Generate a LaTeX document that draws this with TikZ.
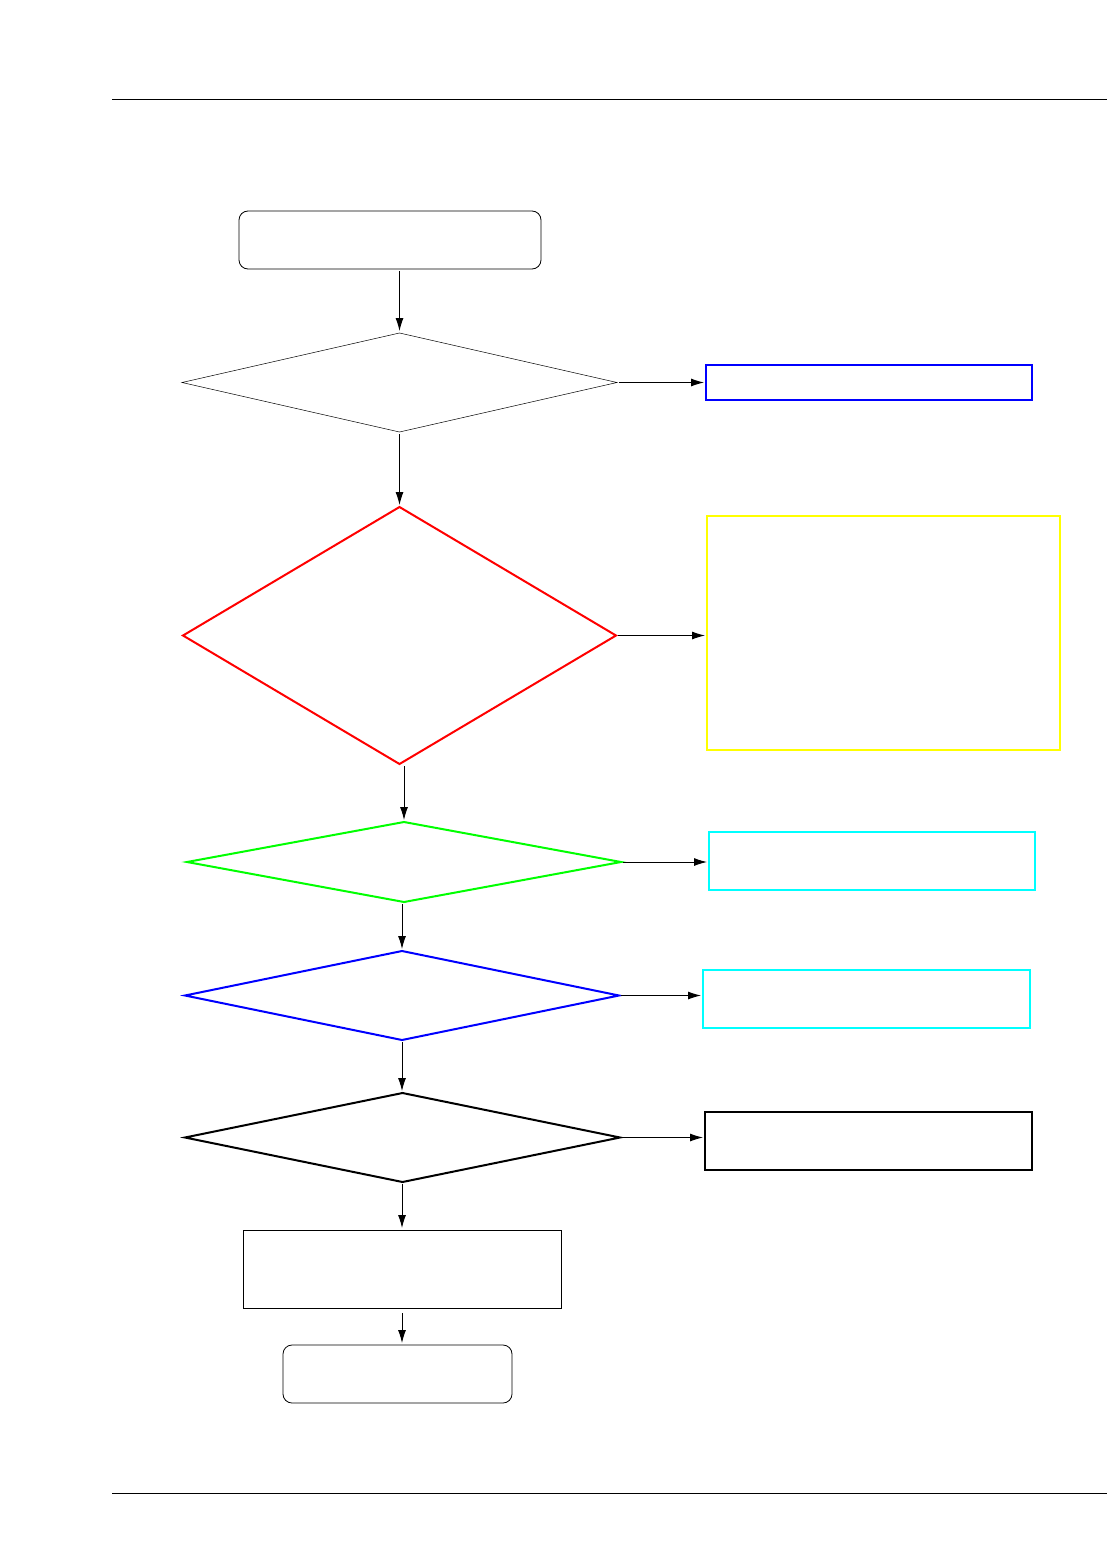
\documentclass[tikz,border=0pt]{standalone}
\usetikzlibrary{shapes.geometric,arrows.meta}
\definecolor{pblue}{RGB}{0,0,255}
\definecolor{pred}{RGB}{255,0,0}
\definecolor{pyellow}{RGB}{255,255,0}
\definecolor{pgreen}{RGB}{0,255,0}
\definecolor{pcyan}{RGB}{0,255,255}
\begin{document}
\begin{tikzpicture}[x=1pt,y=-1pt,
  box/.style={draw,rectangle,inner sep=0pt,outer sep=0pt},
  rbox/.style={box,rounded corners=9pt,line width=0.8pt},
  dia/.style={draw,diamond,inner sep=0pt,outer sep=0pt,line width=2pt},
  arr/.style={-{Latex[length=13pt,width=8pt]},line width=0.9pt,shorten >=2pt,shorten <=2pt}]
\useasboundingbox (0,0) rectangle (1107,1554);
\draw[line width=1pt] (112,100) coordinate (tl) -- (1107,100) coordinate (tr);
\draw[line width=1pt] (112,1493) coordinate (bl) -- (1107,1493) coordinate (br);

\node[rbox,minimum width=302pt,minimum height=58pt] (start) at (390,240) {};
\node[dia,line width=0.5pt,minimum width=435pt,minimum height=99pt] (d1) at (399.5,382.5) {};
\node[box,draw=pblue,line width=2pt,minimum width=326pt,minimum height=35pt] (b1) at (869,382.5) {};
\node[dia,draw=pred,minimum width=433pt,minimum height=257pt] (d2) at (399.5,635.5) {};
\node[box,draw=pyellow,line width=2pt,minimum width=353pt,minimum height=234pt] (b2) at (883.5,633) {};
\node[dia,draw=pgreen,minimum width=434pt,minimum height=80pt] (d3) at (404,862) {};
\node[box,draw=pcyan,line width=1.2pt,minimum width=326pt,minimum height=58pt] (b3) at (872,861) {};
\node[dia,draw=pblue,minimum width=434pt,minimum height=89pt] (d4) at (402,995.5) {};
\node[box,draw=pcyan,line width=1.2pt,minimum width=327pt,minimum height=58pt] (b4) at (866.5,999) {};
\node[dia,draw=black,minimum width=435pt,minimum height=89pt] (d5) at (402.5,1137.5) {};
\node[box,line width=2.5pt,minimum width=327pt,minimum height=58pt] (b5) at (868.5,1141) {};
\node[box,line width=1pt,minimum width=318pt,minimum height=78pt] (proc) at (402,1269) {};
\node[rbox,minimum width=229pt,minimum height=58pt] (end) at (397.5,1374) {};

\draw[arr] (start.south -| d1.north) -- (d1.north);
\draw[arr] (d1.east) -- (d1.east -| b1.west);
\draw[arr] (d1.south) -- (d2.north);
\draw[arr] (d2.east) -- (d2.east -| b2.west);
\draw[arr] (d2.south -| d3.north) -- (d3.north);
\draw[arr] (d3.east) -- (d3.east -| b3.west);
\draw[arr] (d3.south -| d4.north) -- (d4.north);
\draw[arr] (d4.east) -- (d4.east -| b4.west);
\draw[arr] (d4.south) -- (d5.north -| d4.south);
\draw[arr] (d5.east) -- (d5.east -| b5.west);
\draw[arr] (d5.south -| proc.north) -- (proc.north);
\draw[arr,shorten <=5pt] (proc.south) -- (end.north -| proc.south);
\end{tikzpicture}
\end{document}
